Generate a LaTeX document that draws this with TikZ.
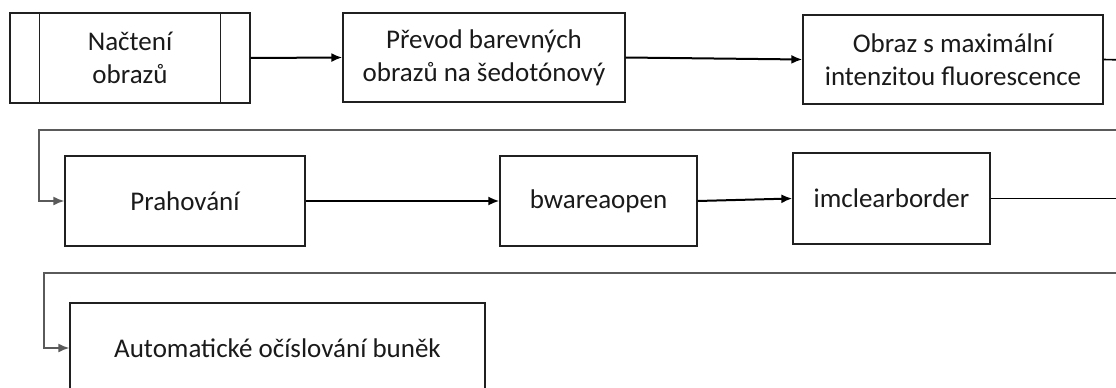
\documentclass[tikz,border=0pt]{standalone}
\usepackage{fontspec}
\setmainfont{Carlito}
\usetikzlibrary{arrows.meta}
\definecolor{boxline}{HTML}{202020}
\definecolor{retline}{HTML}{5A5A5A}
\definecolor{txt}{HTML}{1A1A1A}
\tikzset{
  box/.style={draw=boxline, line width=1.3pt, fill=white, text=txt, align=center,
    font=\fontsize{27}{33}\selectfont, inner sep=0pt},
  flow/.style={line width=2pt, draw=black, -{Latex[length=11pt,width=9pt]}},
  plain/.style={line width=1.6pt, draw=black},
  ret/.style={line width=1.7pt, draw=retline, -{Latex[length=11pt,width=9pt]}},
}
\begin{document}
\begin{tikzpicture}[x=1pt,y=-1pt]
\useasboundingbox (0,0) rectangle (1116,388);
\clip (0,0) rectangle (1116,388);
\fill[white] (0,0) rectangle (1116,388);
% row 1
\node[box, minimum width=240pt, minimum height=90pt] (b1) at (130,58) {Načtení\\obrazů};
\draw[boxline, line width=1.3pt] ([xshift=30pt]b1.north west) -- ([xshift=30pt]b1.south west);
\draw[boxline, line width=1.3pt] ([xshift=-30pt]b1.north east) -- ([xshift=-30pt]b1.south east);
\node[box, minimum width=282pt, minimum height=89pt] (b2) at (484,57.5) {Převod barevných\\obrazů na šedotónový};
\node[box, minimum width=300pt, minimum height=89pt] (b3) at (953,59.5) {Obraz s maximální\\intenzitou fluorescence};
% row 2
\node[box, minimum width=240pt, minimum height=90pt] (b4) at (185,201) {Prahování};
\node[box, minimum width=197pt, minimum height=90pt] (b5) at (598.5,201) {bwareaopen};
\node[box, minimum width=197pt, minimum height=91pt] (b6) at (891.5,198.5) {imclearborder};
% row 3
\node[box, minimum width=415pt, minimum height=90pt] (b7) at (277.5,348) {Automatické očíslování buněk};
% coordinates at right edge
\coordinate (o1) at (1125,60);
\coordinate (e1) at (1125,130);
\coordinate (o2) at (1125,198.5);
\coordinate (e2) at (1125,273);
% connectors
\draw[flow] (b1.east) -- (b2.west);
\draw[flow] (b2.east) -- (b3.west);
\draw[plain] (b3.east) -- (o1);
\draw[ret] (e1) -- (39,130) |- (b4.west);
\draw[flow] (b4.east) -- (b5.west);
\draw[flow] (b5.east) -- (b6.west);
\draw[plain] (b6.east) -- (o2);
\draw[ret] (e2) -- (44,273) |- (b7.west);
\end{tikzpicture}
\end{document}
